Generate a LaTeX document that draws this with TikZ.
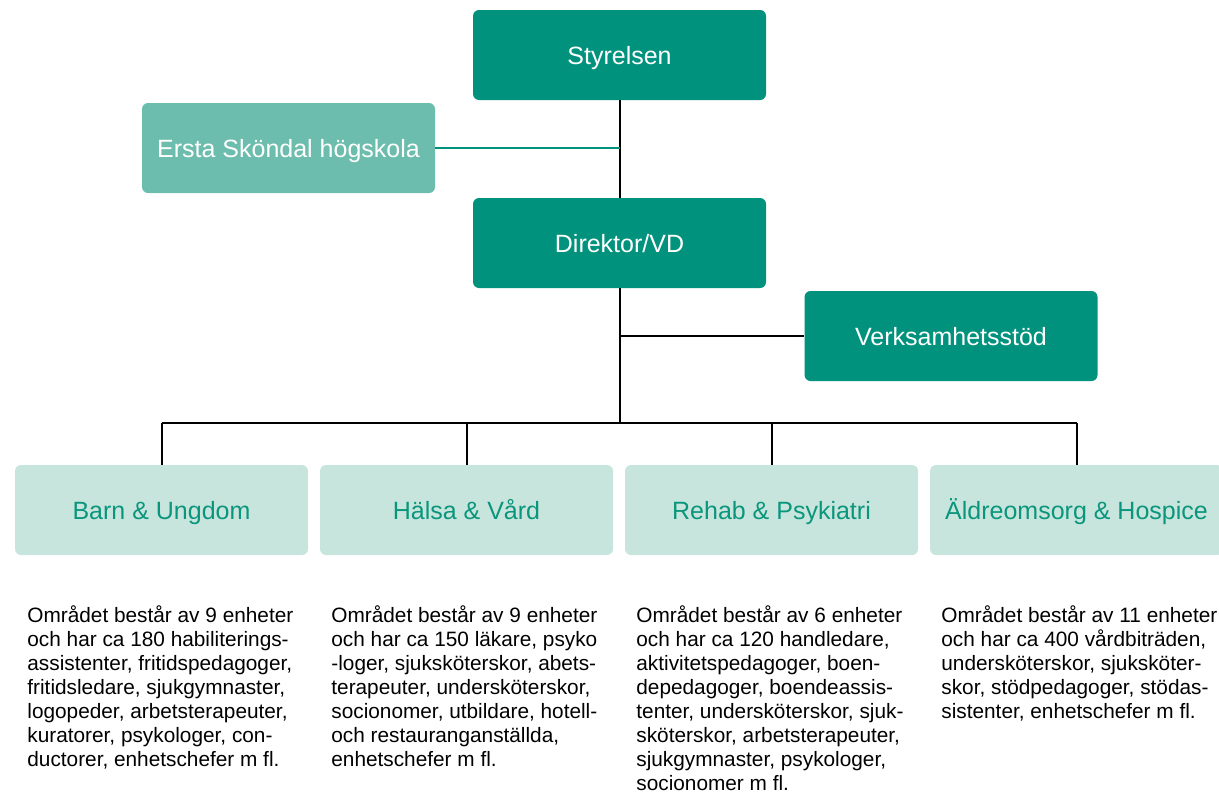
\documentclass[tikz,border=0pt]{standalone}
\usepackage{fontspec}
\setmainfont{Liberation Sans}
\usepackage{tikz}

\definecolor{darkteal}{RGB}{0,146,124}
\definecolor{midteal}{RGB}{108,189,173}
\definecolor{paleteal}{RGB}{200,229,221}
\definecolor{labelteal}{RGB}{10,150,124}

\begin{document}
\begin{tikzpicture}[x=0.5pt, y=-0.5pt,
    box/.style={rounded corners=3pt, minimum width=146.5pt, minimum height=45pt,
                align=center, inner sep=0pt, text height=9pt, text depth=0pt,
                font=\fontsize{12.5}{15}\selectfont},
    topbox/.style={box, fill=darkteal, text=white},
    sidebox/.style={box, fill=midteal, text=white},
    unitbox/.style={box, fill=paleteal, text=labelteal},
    info/.style={anchor=north west, align=left, inner sep=0pt,
                 font=\fontsize{10.4}{12}\selectfont},
    link/.style={line width=1pt, black}]
    \useasboundingbox (0,0) rectangle (1219,803);
    \clip (0,0) rectangle (1219,803);

    \node[topbox]   (S)   at ( 619.5,  55.0)   {Styrelsen};
    \node[sidebox]  (H)   at ( 288.5, 148.0)   {Ersta Sköndal högskola};
    \node[topbox]   (D)   at ( 619.5, 243.0)   {Direktor/VD};
    \node[topbox]   (V)   at ( 951.0, 336.0)   {Verksamhetsstöd};

    \node[unitbox]  (BU)  at ( 161.5, 510.0)   {Barn \& Ungdom};
    \node[unitbox]  (HV)  at ( 466.5, 510.0)   {Hälsa \& Vård};
    \node[unitbox]  (RP)  at ( 771.5, 510.0)   {Rehab \& Psykiatri};
    \node[unitbox]  (AH)  at (1076.5, 510.0)   {Äldreomsorg \& Hospice};

    \coordinate (bus) at (619.5, 423.0);

    \node[info]  (tBU)  at ( 27, 605)  {Området består av 9 enheter \\ och har ca 180 habiliterings- \\ assistenter, fritidspedagoger, \\ fritidsledare, sjukgymnaster, \\ logopeder, arbetsterapeuter, \\ kuratorer, psykologer, con- \\ ductorer, enhetschefer m fl.};
    \node[info]  (tHV)  at (331, 605)  {Området består av 9 enheter \\ och har ca 150 läkare, psyko \\ -loger, sjuksköterskor, abets- \\ terapeuter, undersköterskor, \\ socionomer, utbildare, hotell- \\ och restauranganställda, \\ enhetschefer m fl.};
    \node[info]  (tRP)  at (636, 605)  {Området består av 6 enheter \\ och har ca 120 handledare, \\ aktivitetspedagoger, boen- \\ depedagoger, boendeassis- \\ tenter, undersköterskor, sjuk- \\ sköterskor, arbetsterapeuter, \\ sjukgymnaster, psykologer, \\ socionomer m fl.};
    \node[info]  (tAH)  at (941, 605)  {Området består av 11 enheter \\ och har ca 400 vårdbiträden, \\ undersköterskor, sjuksköter- \\ skor, stödpedagoger, stödas- \\ sistenter, enhetschefer m fl.};

    \draw[link] (S) -- (D);
    \draw[line width=1pt, darkteal] (H.east) -- (H.east -| S.south);
    \draw[link] (D) -- (bus);
    \draw[link] (V.west) -- (V.west -| D.south);

    \draw[link] (BU.north |- bus) -- (AH.north |- bus);
    \draw[link] (BU.north) -- (BU.north |- bus);
    \draw[link] (HV.north) -- (HV.north |- bus);
    \draw[link] (RP.north) -- (RP.north |- bus);
    \draw[link] (AH.north) -- (AH.north |- bus);
\end{tikzpicture}
\end{document}
